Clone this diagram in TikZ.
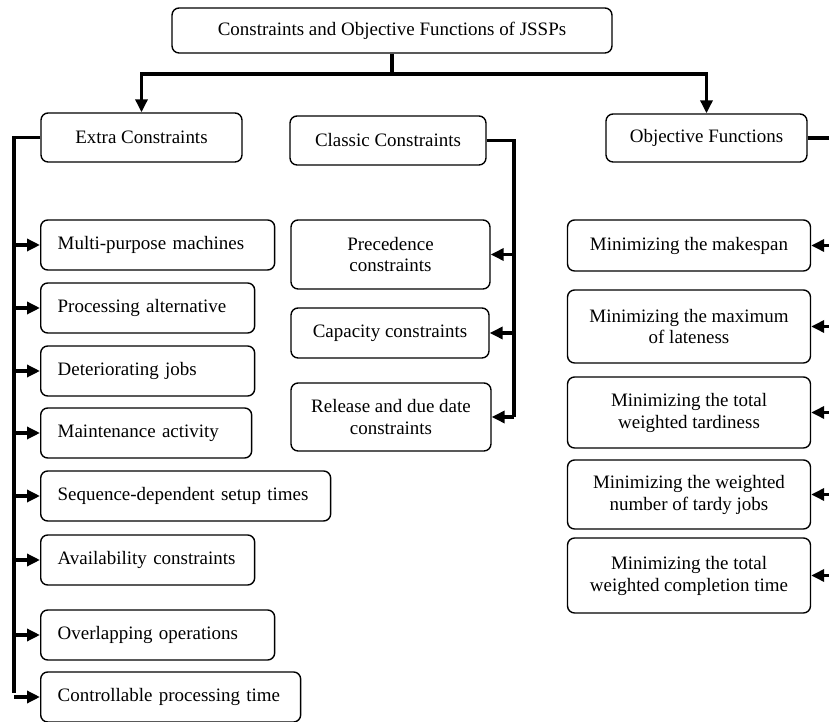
\documentclass[tikz,border=0pt]{standalone}
\usepackage{fontspec}
\setmainfont{Liberation Serif}
\usetikzlibrary{arrows.meta}

\begin{document}
\begin{tikzpicture}[x=0.02cm, y=-0.02cm,
    box/.style={draw, thick, rounded corners=4pt, fill=white,
        font=\fontsize{10.8}{12.5}\selectfont, align=center, minimum height=1cm},
    lbox/.style={box, anchor=west, align=left, inner xsep=0.34cm},
    conn/.style={line width=1.9pt},
    arr/.style={conn, -{Triangle[length=0.26cm,width=0.24cm]}}]
    \useasboundingbox (0,0) rectangle (829,722);
    \clip (0,0) rectangle (829,722);

    % Top box and the three branches
    \node[box, minimum width=8.8cm, minimum height=0.9cm] (root) at (392,30.5)
        {Constraints and Objective Functions of JSSPs};
    \node[box, minimum width=4.02cm, minimum height=0.98cm] (extra) at (141.5,137.5) {Extra Constraints};
    \node[box, minimum width=3.92cm, minimum height=0.98cm] (classic) at (388,140.5) {Classic Constraints};
    \node[box, minimum width=4.02cm, minimum height=0.96cm] (objfun) at (706.5,138) {Objective Functions};

    % Extra constraints
    \foreach \i/\y/\tw/\txt in {1/245/4.00/Multi-purpose machines,
                                2/308/3.60/Processing alternative,
                                3/371/3.60/Deteriorating jobs,
                                4/433/3.54/Maintenance activity,
                                5/496/5.12/Sequence-dependent setup times,
                                6/560/3.60/Availability constraints,
                                7/635/4.00/Overlapping operations,
                                8/697/4.52/Controllable processing time}
        \node[lbox, text width=\tw cm] (e\i) at (40,\y) {\mbox{\txt}};

    % Classic constraints
    \node[box, minimum width=3.98cm, minimum height=1.38cm] (prec) at (390.5,254.5) {Precedence\\constraints};
    \node[box, minimum width=3.96cm] (capa) at (390,333) {Capacity constraints};
    \node[box, minimum width=4cm, minimum height=1.36cm] (rel) at (391,417) {Release and due date\\constraints};

    % Objective functions
    \foreach \i/\y/\h/\txt in {1/245.5/1.02/{Minimizing the makespan},
                               2/326.5/1.46/{Minimizing the maximum\\of lateness},
                               3/412.5/1.42/{Minimizing the total\\weighted tardiness},
                               4/494.5/1.38/{Minimizing the weighted\\number of tardy jobs},
                               5/575.5/1.50/{Minimizing the total\\weighted completion time}}
        \node[box, minimum width=4.86cm, minimum height=\h cm] (o\i) at (689,\y) {\txt};

    % Connectors from the top box
    \coordinate (split) at (396,74);
    \draw[conn] (root.south) -- (root.south |- split);
    \draw[arr] (root.south |- split) -| (extra.north);
    \draw[arr] (root.south |- split) -| (objfun.north);

    % Left bus
    \coordinate (ebus) at (14,693);
    \draw[conn] (extra.west) -| (ebus);
    \foreach \i in {1,...,8}
        \draw[arr] (e\i.west -| ebus) -- (e\i.west);

    % Middle bus
    \coordinate (cbus) at (514,417);
    \draw[conn] (classic.east) -| (cbus);
    \foreach \n in {prec,capa,rel}
        \draw[arr] (\n.east -| cbus) -- (\n.east);

    % Right bus (runs off the page)
    \coordinate (obus) at (845,575);
    \draw[conn] (objfun.east) -- (objfun.east -| obus);
    \foreach \i in {1,...,5}
        \draw[arr] (o\i.east -| obus) -- (o\i.east);
\end{tikzpicture}
\end{document}
